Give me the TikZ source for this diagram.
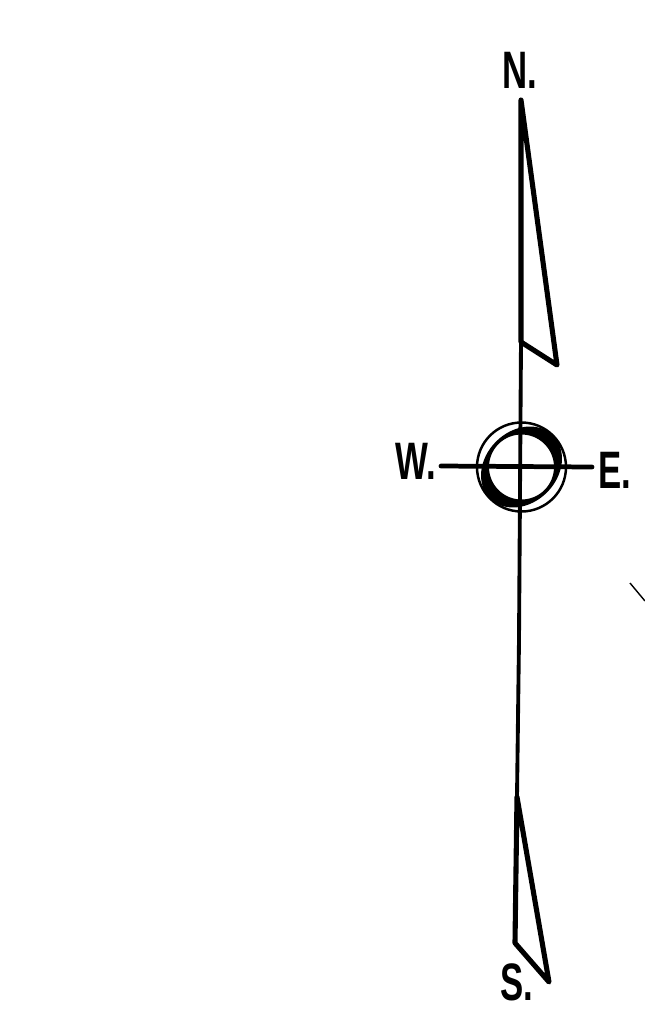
\documentclass[tikz,border=0pt]{standalone}
\usepackage{fontspec}
\setmainfont{Liberation Sans}
\tikzset{
  pointlabel/.style={inner sep=0pt,xscale=0.66,font=\bfseries\fontsize{30}{30}\selectfont},
  needle/.style={line width=2.9pt,line join=round,line cap=round},
  meridian/.style={line width=2.2pt,line cap=round},
  thinring/.style={line width=1.4pt},
}
\begin{document}
\begin{tikzpicture}[x=0.02cm,y=0.02cm]
	\useasboundingbox (0,0) rectangle (645,-1009);
	\node [pointlabel] (north) at (520,-70) {N.};
	\node [pointlabel] (west) at (415.5,-461.5) {W.};
	\node [pointlabel] (east) at (615,-470) {E.};
	\node [pointlabel] (south) at (517,-982) {S.};
	\coordinate (ntop) at (521,-100);
	\coordinate (ntip) at (557,-365);
	\coordinate (njoin) at (521,-342);
	\coordinate (mid) at (519,-640);
	\coordinate (stop) at (517,-797);
	\coordinate (sfoot) at (515,-943);
	\coordinate (stip) at (549,-982);
	\coordinate (wend) at (441,-466);
	\coordinate (eend) at (592,-467);
	\coordinate (ringc) at (521.5,-467);
	\coordinate (stroke1) at (630,-583);
	\coordinate (stroke2) at (645,-601);
	% needle ends
	\draw [meridian] (njoin) -- (mid) -- (stop);
	\draw [needle] (njoin) -- (ntop) -- (ntip) -- cycle;
	\draw [needle] (stop) -- (sfoot) -- (stip) -- cycle;
	% centre rings
	\fill [black,even odd rule,rotate around={45:(ringc)}] (ringc) ellipse (44.5 and 36)
		(ringc) circle (32.5);
	\draw [thinring] (ringc) circle (44.5);
	\draw [line width=2.7pt,line cap=round] (wend) -- (eend);
	\draw [line width=0.8pt] (stroke1) -- (stroke2);
\end{tikzpicture}
\end{document}
